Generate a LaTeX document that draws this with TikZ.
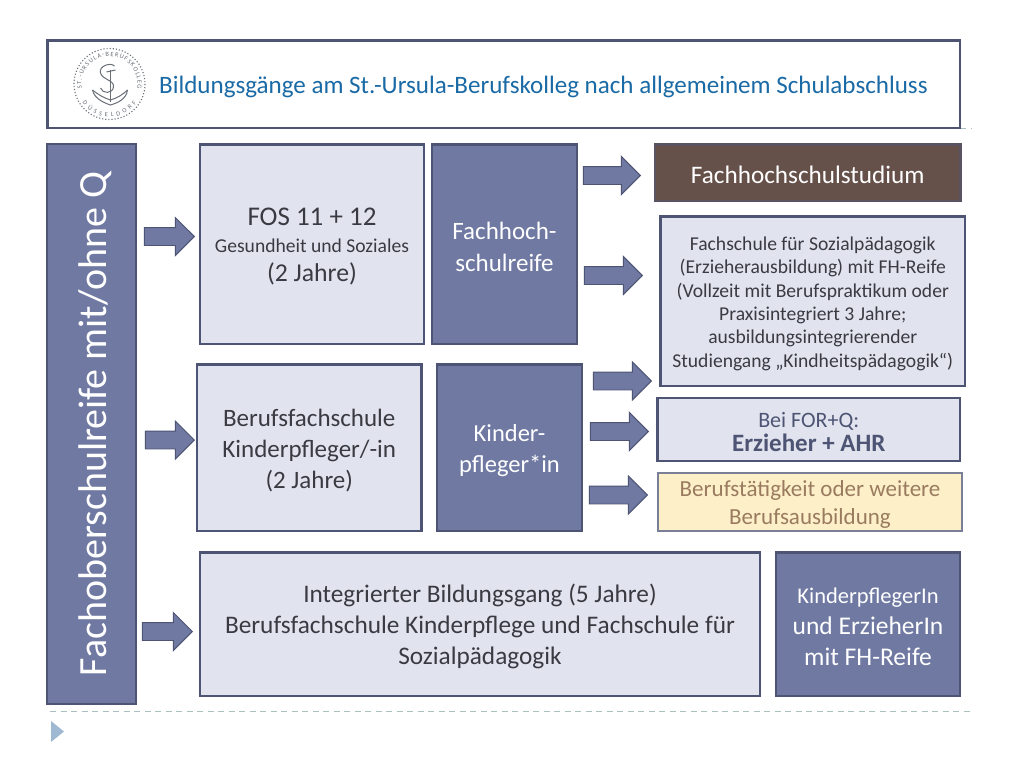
\documentclass[tikz,border=0pt]{standalone}
\usepackage{fontspec}
\setmainfont{Carlito}
\usetikzlibrary{shapes.arrows,decorations.text}
\definecolor{edge}{HTML}{4D5474}
\definecolor{dark}{HTML}{6F79A2}
\definecolor{light}{HTML}{E1E4EE}
\definecolor{brownb}{HTML}{65504A}
\definecolor{cream}{HTML}{FDF0C9}
\definecolor{creamtext}{HTML}{9A7B5F}
\definecolor{titleblue}{HTML}{1A6AA6}
\definecolor{textdark}{HTML}{3A3A42}
\definecolor{dashc}{HTML}{A9C0BE}
\definecolor{tri}{HTML}{A0B9D3}
\definecolor{logoc}{HTML}{6A6F78}
\newcommand{\fs}[2]{\fontsize{#1pt}{#2pt}\selectfont}
\tikzset{
  x=1pt,y=-1pt,
  basebox/.style={draw=edge,line width=2.4pt,align=center,inner sep=0pt,anchor=center},
  lightbox/.style={basebox,fill=light,text=textdark},
  darkbox/.style={basebox,fill=dark,text=white},
  blockarrow/.style={single arrow,draw=edge,line width=.9pt,fill=dark,inner xsep=0pt,inner ysep=8.5pt,
    single arrow head extend=10pt,single arrow tip angle=90,anchor=tip},
  dashline/.style={draw=dashc,line width=.8pt,dash pattern=on 6pt off 4.5pt},
}
\newcommand{\bx}[7]{% name style x1 y1 x2 y2 text
  \node[#2,minimum width=#5pt-#3pt,minimum height=#6pt-#4pt] (#1) at ({(#3+#5)/2},{(#4+#6)/2}) {};
  \node[#2,draw=none,fill=none,yshift=-2.5pt] (#1text) at (#1.center) {#7};}
\newcommand{\arw}[5]{% name x1 x2 ymid length
  \node[blockarrow,minimum height=#5pt] (#1) at (#3,#4) {};}
\begin{document}
\begin{tikzpicture}
\useasboundingbox (0,0) rectangle (1024,768);
\fill[white] (0,0) rectangle (1024,768);
% decorative theme lines
\coordinate (dl1) at (50,711.5); \coordinate (dl2) at (972,711.5);
\coordinate (dt1) at (960,128); \coordinate (dt2) at (972,128);
\draw[dashline] (dl1) -- (dl2);
\draw[dashline] (dt1) -- (dt2);
\fill[tri] (51,721) -- (64,731.5) -- (51,742) -- cycle;
% title
\node[basebox,fill=white,minimum width=912.5pt,minimum height=87.5pt] (title) at (503.75,84.25) {};
\node[text=titleblue,font=\fs{25.05}{29},anchor=west,inner sep=0pt] (titletext) at (159,87) {Bildungsgänge am St.-Ursula-Berufskolleg nach allgemeinem Schulabschluss};
% logo
\begin{scope}[shift={(109.5,84)}]
  \coordinate (lc) at (0,0);
  \draw[logoc,line width=1.1pt,dotted] (lc) circle[radius=35.5];
  \draw[logoc,line width=1pt] (1,-14) -- (1,18);
  \draw[logoc,line width=1pt] (-17,6) .. controls (-15,15) and (-5,19) .. (1,21) .. controls (8,19) and (17,15) .. (18,6);
  \draw[logoc,line width=1pt] (-17,6) .. controls (-12,10) and (-6,14) .. (1,16) .. controls (8,14) and (14,10) .. (18,6);
  \draw[logoc,line width=1pt] (5,-18) .. controls (1,-22) and (-11,-18) .. (-9,-11) .. controls (-7,-4) and (5,-4) .. (4,3) .. controls (3,10) and (-7,10) .. (-9,4);
  \draw[logoc,line width=1pt] (-3,-12) -- (6,-14);
  \path[postaction={decorate,decoration={text along path,text align={fit to path},
     text={|\fontsize{6.4pt}{8pt}\selectfont\color{logoc}|ST.-URSULA-BERUFSKOLLEG}}}]
     (-27.6,4.9) arc[start angle=170,end angle=370,radius=28];
  \path[postaction={decorate,decoration={text along path,text align={fit to path},
     text={|\fontsize{6.4pt}{8pt}\selectfont\color{logoc}|DÜSSELDORF}}}]
     (-27,18.9) arc[start angle=145,end angle=35,radius=33];
\end{scope}
% boxes
\node[darkbox,minimum width=89pt,minimum height=560pt] (left) at (91.5,424) {};
\node[rotate=90,text=white,font=\fs{40}{44},inner sep=0pt] (lefttext) at (95,424) {Fachoberschulreife mit/ohne Q};
\bx{fos}{lightbox,font=\fs{27}{28}}{200}{144.5}{424}{344}{FOS 11 + 12\\[-1pt]\fs{19.6}{24}Gesundheit und Soziales\\[1pt]\fs{25.7}{28}(2 Jahre)}
\bx{fhr}{darkbox,font=\fs{25}{32}}{432}{144.5}{577}{344}{Fachhoch-\\schulreife}
\bx{fhs}{darkbox,fill=brownb,draw=edge!55!brownb,font=\fs{25.2}{29}}{655}{144.5}{960.5}{201}{Fachhochschulstudium}
\bx{fsp}{lightbox,font=\fs{19.6}{23.3}}{660.5}{216.5}{965}{386}{Fachschule für Sozialpädagogik\\(Erzieherausbildung) mit FH-Reife\\(Vollzeit mit Berufspraktikum oder\\Praxisintegriert 3 Jahre;\\ausbildungsintegrierender\\Studiengang „Kindheitspädagogik“)}
\bx{bfs}{lightbox,font=\fs{25}{31}}{197}{364.5}{421.5}{531}{Berufsfachschule\\Kinderpfleger/-in\\(2 Jahre)}
\bx{kin}{darkbox,font=\fs{24.5}{31}}{437}{364.5}{582}{531}{Kinder-\\pfleger*in}
\bx{for}{lightbox,text=edge,font=\fs{22}{24}}{657.5}{398}{960}{461}{Bei FOR+Q:\\\fs{25}{27}\bfseries Erzieher + AHR}
\bx{ber}{lightbox,fill=cream,text=creamtext,draw=edge!75,font=\fs{23}{27.5}}{658}{473}{962}{531}{Berufstätigkeit oder weitere\\Berufsausbildung}
\bx{int}{lightbox,font=\fs{25.3}{31}}{200}{552.5}{760}{696}{Integrierter Bildungsgang (5 Jahre)\\Berufsfachschule Kinderpflege und Fachschule für\\Sozialpädagogik}
\bx{kpe}{darkbox,font=\fs{25.5}{31}}{776}{552.5}{960}{696}{\fs{22.5}{31}KinderpflegerIn\\und ErzieherIn\\mit FH-Reife}
% arrows
\arw{a1}{145}{195}{236.5}{50}
\arw{a2}{146}{195}{440}{49}
\arw{a3}{143}{193}{631.5}{50}
\arw{a4}{584}{641}{175.5}{57}
\arw{a5}{585}{643}{275.5}{58}
\arw{a6}{594}{652}{381}{58}
\arw{a7}{591}{649}{431.5}{58}
\arw{a8}{590}{648}{495}{58}
\end{tikzpicture}
\end{document}
